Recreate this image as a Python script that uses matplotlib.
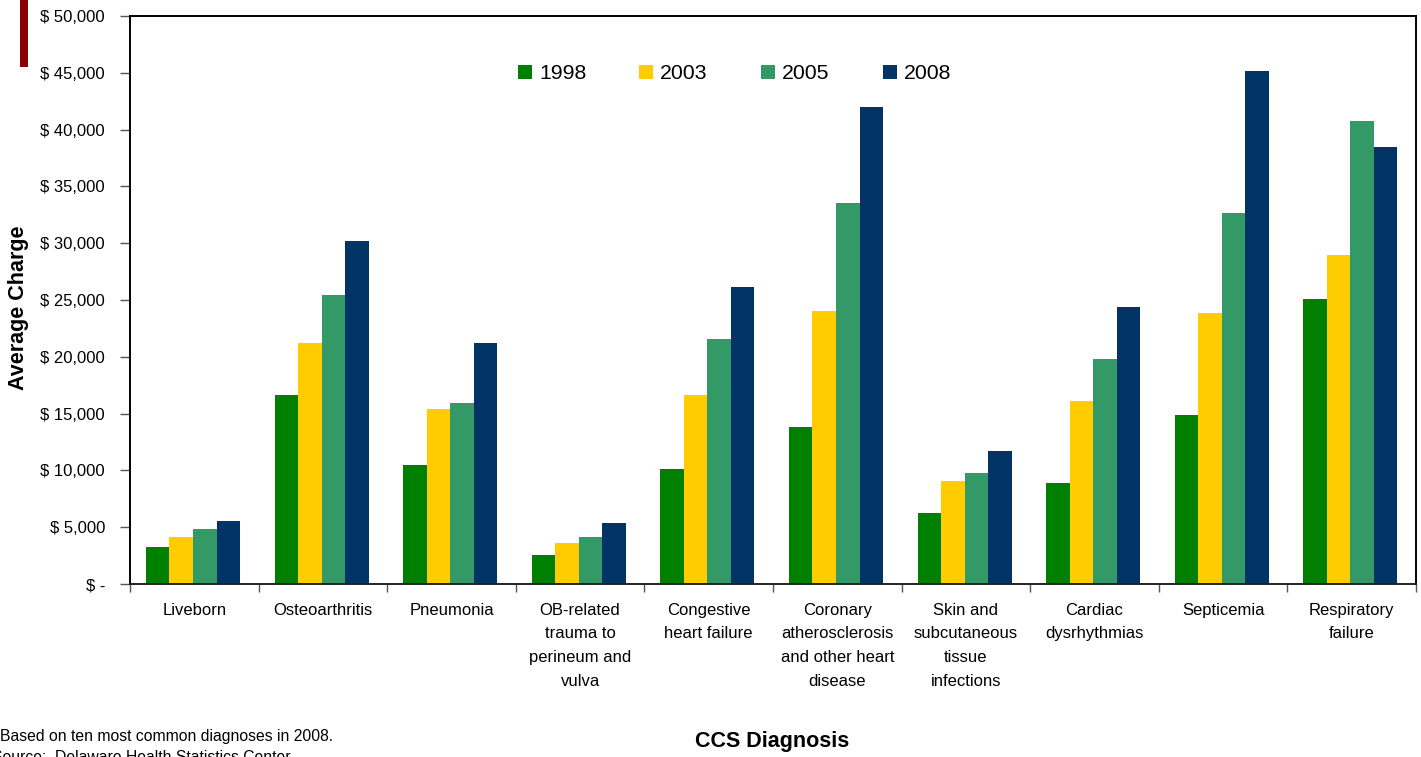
import matplotlib
matplotlib.use("Agg")
import matplotlib.pyplot as plt
import numpy as np

plt.rcParams['font.family'] = ['Liberation Sans', 'DejaVu Sans']

categories = ["Liveborn", "Osteoarthritis", "Pneumonia",
              "OB-related\ntrauma to\nperineum and\nvulva",
              "Congestive\nheart failure",
              "Coronary\natherosclerosis\nand other heart\ndisease",
              "Skin and\nsubcutaneous\ntissue\ninfections",
              "Cardiac\ndysrhythmias", "Septicemia", "Respiratory\nfailure"]
years = ["1998", "2003", "2005", "2008"]
v1998 = [3260, 16640, 10480, 2550, 10150, 13820, 6250, 8890, 14880, 25090]
v2003 = [4140, 21210, 15400, 3610, 16640, 24030, 9070, 16110, 23860, 28960]
v2005 = [4840, 25440, 15930, 4140, 21570, 33540, 9770, 19800, 32660, 40760]
v2008 = [5550, 30190, 21210, 5370, 26140, 41990, 11710, 24380, 45160, 38470]
series = [v1998, v2003, v2005, v2008]
colors = ["#008000", "#FFCC00", "#339966", "#003366"]
yticks = list(range(0, 50001, 5000))
ytick_labels = ["$ -"] + ["$ %s" % format(t, ",") for t in yticks[1:]]

W, H = 1421, 757
fig = plt.figure(figsize=(W / 100, H / 100), dpi=100)
ax = fig.add_axes([130 / W, 1 - 584 / H, 1286 / W, 568 / H])

x = np.arange(len(categories))
bw = 0.183
for k, (vals, c, yr) in enumerate(zip(series, colors, years)):
    ax.bar(x + (k - 1.5) * bw - 0.01, vals, width=bw, color=c, label=yr, linewidth=0)

ax.set_xlim(-0.5, len(categories) - 0.5)
ax.set_ylim(0, 50000)
ax.set_yticks(yticks)
ax.set_yticklabels(ytick_labels, fontsize=12)
ax.tick_params(axis='y', direction='out', length=7, width=1, color='#555555', pad=11)

ax.set_xticks(np.arange(-0.5, len(categories) + 0.5, 1.0))
ax.set_xticklabels([])
ax.tick_params(axis='x', direction='out', length=6, width=1, color='#555555')
ax.set_xticks(x, minor=True)
ax.set_xticklabels(categories, minor=True, fontsize=12, linespacing=1.72, va='top', ha='center')
ax.tick_params(axis='x', which='minor', length=0, pad=13.5)

for s in ax.spines.values():
    s.set_color('black')
    s.set_linewidth(1.4)
ax.spines['bottom'].set_color('#222222')

leg = ax.legend(ncol=4, frameon=False, loc='center', bbox_to_anchor=(0.47, 0.898),
                fontsize=15.3, handlelength=0.66, handleheight=0.66, handletextpad=0.33,
                columnspacing=2.5, borderaxespad=0)

fig.text(19 / W, 1 - 308 / H, "Average Charge", rotation=90, fontsize=15.5,
         fontweight='bold', ha='center', va='center')
fig.text(772 / W, 1 - 742 / H, "CCS Diagnosis", fontsize=15.5, fontweight='bold',
         ha='center', va='center')
fig.text(0 / W, 1 - 737 / H, "Based on ten most common diagnoses in 2008.", fontsize=11.3,
         ha='left', va='center')
fig.text(-8 / W, 1 - 758 / H, "Source:  Delaware Health Statistics Center", fontsize=11.3,
         ha='left', va='center')

fig.add_artist(plt.Rectangle((20 / W, 1 - 67 / H), 8 / W, 67 / H, transform=fig.transFigure,
                             color='#8B0000', linewidth=0))

fig.savefig("out.png", dpi=100)
